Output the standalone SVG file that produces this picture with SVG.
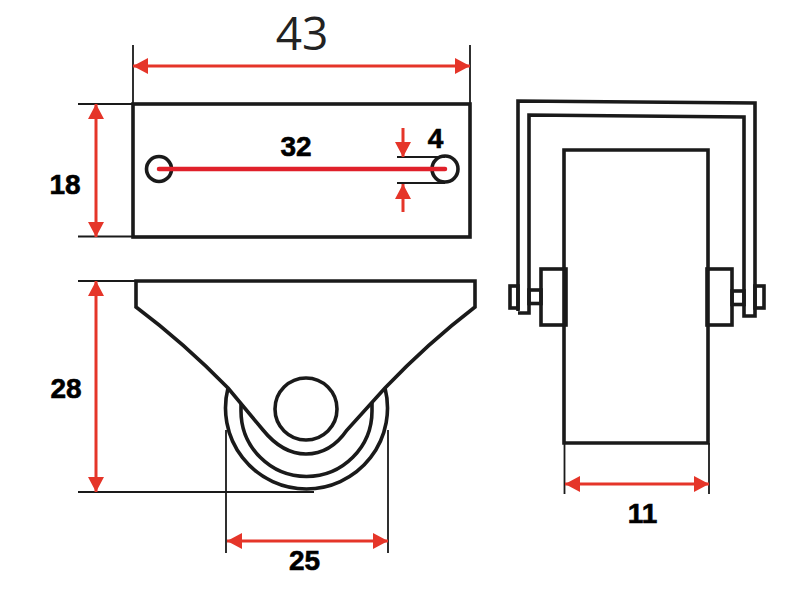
<svg xmlns="http://www.w3.org/2000/svg" width="800" height="600" viewBox="0 0 800 600">
<style>
.o{fill:none;stroke:#1a1a1a;stroke-width:3.6;stroke-linejoin:miter}
.w{fill:#fff;stroke:#1a1a1a;stroke-width:3.6}
.e{fill:none;stroke:#1a1a1a;stroke-width:1.8}
.d{fill:none;stroke:#e53529;stroke-width:3;marker-start:url(#s);marker-end:url(#a)}
.l{font-family:"Liberation Sans",Arial,sans-serif;font-weight:bold;font-size:28px;fill:#000;stroke:#000;stroke-width:.6;text-anchor:middle}
</style>
<defs>
<marker id="a" markerUnits="userSpaceOnUse" markerWidth="16" markerHeight="16" refX="15" refY="8" orient="auto"><path d="M0 0L15 8L0 16Z" fill="#e53529"/></marker>
<marker id="s" markerUnits="userSpaceOnUse" markerWidth="16" markerHeight="16" refX="0" refY="8" orient="auto"><path d="M15 0L0 8L15 16Z" fill="#e53529"/></marker>
</defs>
<rect width="800" height="600" fill="#fff"/>
<g id="top-plate">
<rect class="o" x="133" y="104" width="337" height="133"/>
<circle class="o" cx="159" cy="169" r="12.5"/>
<circle class="o" cx="445" cy="169" r="13"/>
</g>
<g id="front-wheel">
<path class="o" d="M228 388A81 81 0 1 0 385 388"/>
<path class="o" d="M241 403V411A65.500 65.500 0 0 0 372 411V403"/>
<path class="w" d="M136 281H475V307Q428 343 385 388L347 430C336 446 322 454 306 454C290 454 276 446 263 430L228 388Q184 343 136 307Z"/>
<circle class="o" cx="306" cy="409" r="31"/>
</g>
<g id="side-view">
<path class="o" d="M564 443V150H708V443ZM564 443"/>
<path class="o" d="M518 311V101L755 103V316H744V117L529 115V313H518"/>
<rect class="o" x="541" y="269" width="25" height="56"/>
<rect class="o" x="707" y="269" width="25" height="56"/>
<rect class="o" x="529" y="290" width="12" height="13.500"/>
<rect class="o" x="732" y="291" width="12" height="13.500"/>
<rect class="o" x="510" y="286" width="8" height="22"/>
<rect class="o" x="755" y="286" width="9" height="22"/>
</g>
<g id="connectors">
<path class="e" d="M133 45V104M470 45V104M78 104H133M78 236.500H133M78 281H170M78 492H314M226 430V553M388 430V553M564.500 443V494M709 443V494M397 157H445M397 183H445"/>
<path class="d" d="M133 66H470"/>
<path class="d" d="M96 104V237"/>
<path class="d" d="M96 281V492"/>
<path class="d" d="M227 541H388"/>
<path class="d" d="M565 484H709"/>
<path d="M159 169H445" fill="none" stroke="#e0202a" stroke-width="4.500" stroke-linecap="round"/>
<path d="M403 128V157" fill="none" stroke="#e53529" stroke-width="3" marker-end="url(#a)"/>
<path d="M403 212V184" fill="none" stroke="#e53529" stroke-width="3" marker-end="url(#a)"/>
</g>
<g id="labels">
<text x="302" y="50" text-anchor="middle" font-family="'Open Sans',sans-serif" font-weight="400" font-size="46" fill="#222">43</text>
<text class="l" x="296" y="156">32</text>
<text class="l" x="435.500" y="148">4</text>
<text class="l" x="65" y="194">18</text>
<text class="l" x="66" y="398">28</text>
<text class="l" x="304.500" y="570">25</text>
<text class="l" x="642.500" y="523">11</text>
</g>
</svg>
